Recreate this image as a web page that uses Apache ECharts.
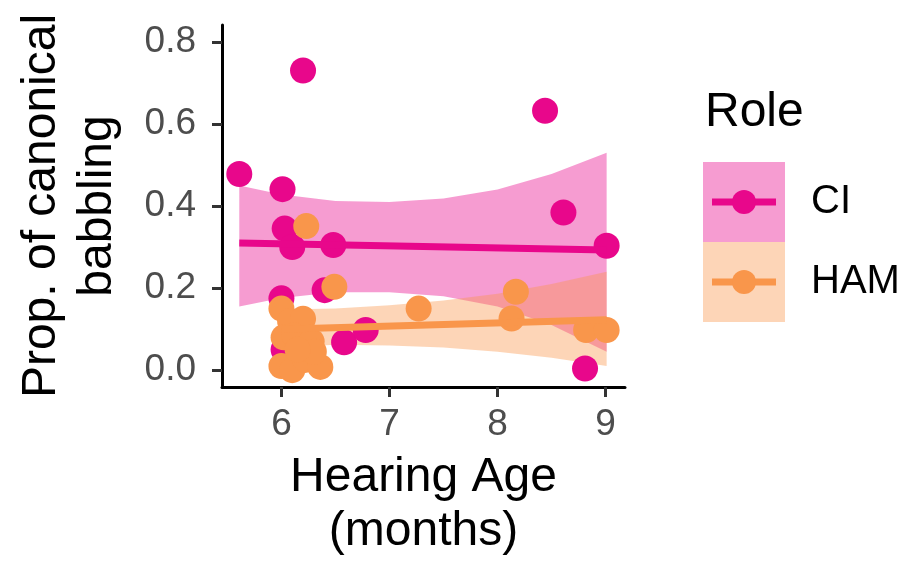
<!DOCTYPE html>
<html>
<head>
<meta charset="utf-8">
<script src="https://cdn.jsdelivr.net/npm/echarts@6/dist/echarts.min.js"></script>
<style>
  html, body { margin: 0; padding: 0; background: #ffffff; }
  #chart { width: 921px; height: 568px; }
</style>
</head>
<body>
<div id="chart"></div>
<script>
// Groups
const roles = ['CI', 'HAM'];

// Observations: hearing age (months) vs proportion of canonical babbling
const ciAge  = [5.61, 6.00, 6.01, 6.03, 6.10, 6.20, 6.40, 6.48, 6.58, 6.78, 8.44, 8.61, 8.81, 9.01, 6.02];
const ciProp = [0.478, 0.175, 0.441, 0.345, 0.300, 0.730, 0.195, 0.305, 0.068, 0.098, 0.632, 0.384, 0.004, 0.303, 0.050];

const hamAge  = [6.23, 6.49, 7.27, 8.13, 8.17, 8.82, 9.01, 6.00, 6.08, 6.20, 6.02, 6.12, 6.28, 6.00, 6.10, 6.22, 6.36, 6.30, 6.15];
const hamProp = [0.351, 0.203, 0.150, 0.126, 0.191, 0.098, 0.098, 0.150, 0.120, 0.125, 0.080, 0.085, 0.070, 0.010, 0.000, 0.025, 0.008, 0.045, 0.050];

// Linear fits (end points) and their confidence bands
const ciFitAge  = [5.61, 9.01];
const ciFitProp = [0.310, 0.293];
const ciBandAge   = [5.61, 6.00, 6.50, 7.00, 7.50, 8.00, 8.50, 9.01];
const ciBandUpper = [0.450, 0.428, 0.412, 0.410, 0.418, 0.440, 0.478, 0.530];
const ciBandLower = [0.155, 0.176, 0.190, 0.190, 0.180, 0.155, 0.110, 0.045];

const hamFitAge  = [6.00, 9.01];
const hamFitProp = [0.100, 0.123];
const hamBandAge   = [6.00, 6.50, 7.00, 7.50, 8.00, 8.50, 9.01];
const hamBandUpper = [0.148, 0.150, 0.158, 0.170, 0.186, 0.210, 0.240];
const hamBandLower = [0.055, 0.062, 0.060, 0.055, 0.045, 0.030, 0.010];

// Axis ticks
const xTicks = [6, 7, 8, 9];
const yTicks = [0.0, 0.2, 0.4, 0.6, 0.8];

const ciColor = '#E8078B';
const hamColor = '#F9964B';
const ciFill = 'rgba(232,7,139,0.4)';
const hamFill = 'rgba(249,150,75,0.4)';
const FONT = '"Liberation Sans", Arial, Helvetica, sans-serif';

const zip = (a, b) => a.map((v, i) => [v, b[i]]);

function bandSeries(name, ages, upper, lower, fill) {
  return {
    type: 'custom',
    name: name,
    silent: true,
    clip: true,
    data: ages.map((a, i) => [a, lower[i], upper[i]]),
    encode: { x: 0, y: [1, 2] },
    renderItem: function (params, api) {
      if (params.dataIndex !== 0) return null;
      const pts = [];
      for (let i = 0; i < ages.length; i++) pts.push(api.coord([ages[i], upper[i]]));
      for (let i = ages.length - 1; i >= 0; i--) pts.push(api.coord([ages[i], lower[i]]));
      return { type: 'polygon', shape: { points: pts }, style: { fill: fill, stroke: null } };
    }
  };
}

function fitSeries(name, ages, props, color) {
  return {
    type: 'line', name: name, data: zip(ages, props), showSymbol: false, silent: true,
    lineStyle: { color: color, width: 7, cap: 'butt' }
  };
}

const chart = echarts.init(document.getElementById('chart'), null, { renderer: 'canvas' });

const option = {
  animation: false,
  backgroundColor: '#ffffff',
  grid: { left: 222, right: 296, top: 25, bottom: 181, containLabel: false },
  xAxis: {
    type: 'value', min: 5.45, max: 9.18,
    name: 'Hearing Age\n(months)', nameLocation: 'middle', nameGap: 64,
    nameTextStyle: { fontFamily: FONT, fontSize: 48, color: '#000', lineHeight: 54 },
    axisLine: { show: true, onZero: false, lineStyle: { color: '#000', width: 3 } },
    axisTick: { show: true, length: 10, lineStyle: { color: '#333', width: 3 }, customValues: xTicks },
    axisLabel: { customValues: xTicks, fontFamily: FONT, fontSize: 37, color: '#4D4D4D', margin: 19,
      formatter: v => String(v) },
    splitLine: { show: false }
  },
  yAxis: {
    type: 'value', min: -0.041, max: 0.841,
    name: 'Prop. of canonical\nbabbling', nameLocation: 'middle', nameGap: 96, nameRotate: 90,
    nameTextStyle: { fontFamily: FONT, fontSize: 48, color: '#000', lineHeight: 56 },
    axisLine: { show: true, onZero: false, lineStyle: { color: '#000', width: 3 } },
    axisTick: { show: true, length: 10, lineStyle: { color: '#333', width: 3 }, customValues: yTicks },
    axisLabel: { customValues: yTicks, fontFamily: FONT, fontSize: 37, color: '#4D4D4D', margin: 26,
      formatter: v => v.toFixed(1) },
    splitLine: { show: false }
  },
  series: [
    { type: 'scatter', name: roles[0], data: zip(ciAge, ciProp), symbolSize: 26,
      itemStyle: { color: ciColor, opacity: 1 }, silent: true },
    { type: 'scatter', name: roles[1], data: zip(hamAge, hamProp), symbolSize: 26,
      itemStyle: { color: hamColor, opacity: 1 }, silent: true },
    bandSeries(roles[0] + ' band', ciBandAge, ciBandUpper, ciBandLower, ciFill),
    fitSeries(roles[0] + ' fit', ciFitAge, ciFitProp, ciColor),
    bandSeries(roles[1] + ' band', hamBandAge, hamBandUpper, hamBandLower, hamFill),
    fitSeries(roles[1] + ' fit', hamFitAge, hamFitProp, hamColor)
  ],
  graphic: []
};

// Legend: title plus one key per role (band fill, fit line, point)
const legendX = 703, keyW = 82, keyH = 80, keyTop = 162;
const legendColors = [ciColor, hamColor];
const legendFills = [ciFill, hamFill];
option.graphic.push({
  type: 'text', x: 705, y: 113,
  style: { text: 'Role', font: '48px ' + FONT, fill: '#000', verticalAlign: 'middle', align: 'left' }
});
roles.forEach((r, i) => {
  const top = keyTop + i * keyH;
  const cy = top + keyH / 2;
  option.graphic.push(
    { type: 'rect', shape: { x: legendX, y: top, width: keyW, height: keyH }, style: { fill: legendFills[i] } },
    { type: 'line', shape: { x1: legendX + 9, y1: cy, x2: legendX + keyW - 9, y2: cy },
      style: { stroke: legendColors[i], lineWidth: 7 } },
    { type: 'circle', shape: { cx: legendX + keyW / 2, cy: cy, r: 12 }, style: { fill: legendColors[i] } },
    { type: 'text', x: 811, y: cy,
      style: { text: r, font: '40px ' + FONT, fill: '#000', verticalAlign: 'middle', align: 'left' } }
  );
});

chart.setOption(option);
</script>
</body>
</html>
